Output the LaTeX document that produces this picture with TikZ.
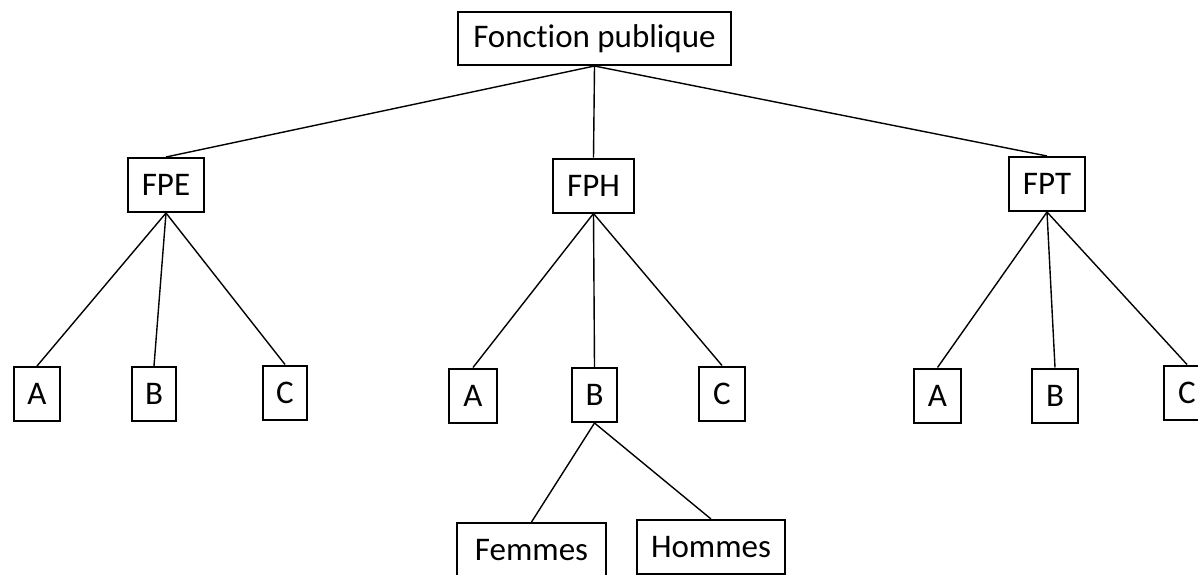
\documentclass[tikz,border=0pt]{standalone}
\usepackage{fontspec}
\setmainfont{Carlito}[Ligatures=NoCommon]
\begin{document}
\begin{tikzpicture}[x=1pt,y=-1pt,
    box/.style={shape=rectangle,draw=black,line width=2pt,inner sep=0pt,minimum height=54pt,font=\fontsize{33}{38}\selectfont},
    link/.style={line width=1.4pt}]
        \useasboundingbox (0,0) rectangle (1198,574);
        \clip (0,0) rectangle (1198,574);
        \node[box,minimum width=273pt,minimum height=53pt] (FP) at (594.5,38.5) {Fonction publique};
        \node[box,minimum width=76pt] (FPE) at (166,185) {FPE};
        \node[box,minimum width=81pt] (FPH) at (593.5,185.5) {FPH};
        \node[box,minimum width=76pt] (FPT) at (1047,184) {FPT};
        \node[box,minimum width=46pt] (EA) at (37,394) {A};
        \node[box,minimum width=44pt] (EB) at (154,394) {B};
        \node[box,minimum width=44pt] (EC) at (285,392.5) {C};
        \node[box,minimum width=48pt] (HA) at (473,395.5) {A};
        \node[box,minimum width=45pt] (HB) at (594.5,395) {B};
        \node[box,minimum width=46pt] (HC) at (722,393.5) {C};
        \node[box,minimum width=47pt] (TA) at (937.5,395.5) {A};
        \node[box,minimum width=46pt] (TB) at (1055,395.5) {B};
        \node[box,minimum width=46pt] (TC) at (1187,392.5) {C};
        \node[box,minimum width=149pt] (F) at (531.5,550) {Femmes};
        \node[box,minimum width=148pt] (H) at (711,547) {Hommes};
        \path [-,link](FP.south) edge (FPE.north);
        \path [-,link](FP.south) edge (FPH.north);
        \path [-,link](FP.south) edge (FPT.north);
        \path [-,link](FPE.south) edge (EA.north);
        \path [-,link](FPE.south) edge (EB.north);
        \path [-,link](FPE.south) edge (EC.north);
        \path [-,link](FPH.south) edge (HA.north);
        \path [-,link](FPH.south) edge (HB.north);
        \path [-,link](FPH.south) edge (HC.north);
        \path [-,link](FPT.south) edge (TA.north);
        \path [-,link](FPT.south) edge (TB.north);
        \path [-,link](FPT.south) edge (TC.north);
        \path [-,link](HB.south) edge (F.north);
        \path [-,link](HB.south) edge (H.north);
    \end{tikzpicture}
\end{document}
